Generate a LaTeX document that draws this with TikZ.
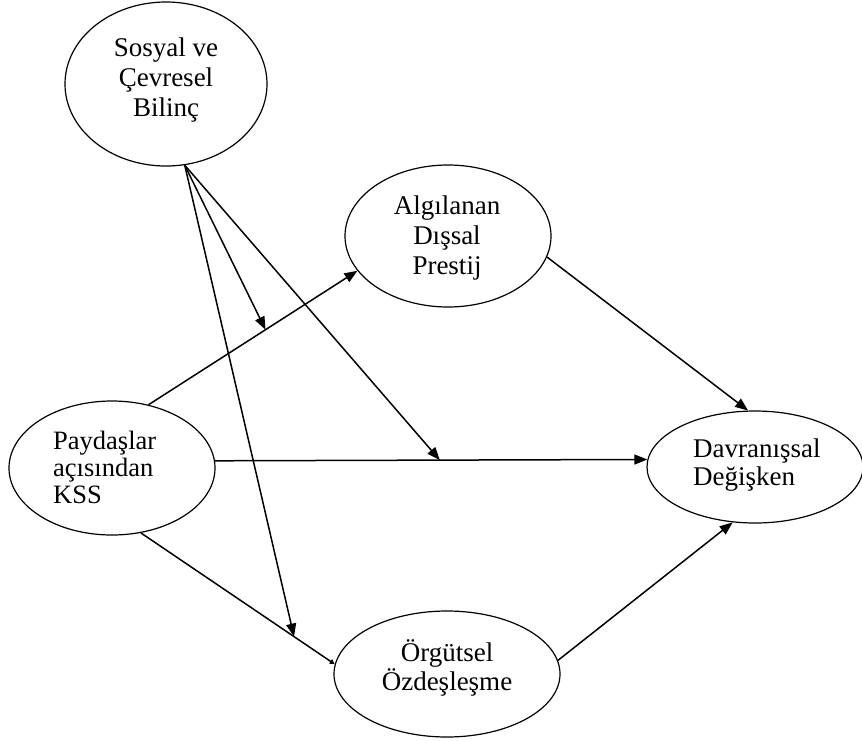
\documentclass[tikz,border=0pt]{standalone}
\usepackage{fontspec}
\setmainfont{Liberation Serif}
\usetikzlibrary{arrows.meta,shapes.geometric}
\begin{document}
\begin{tikzpicture}[x=1pt,y=-1pt,
  construct/.style={draw, ellipse, line width=1.2pt, inner sep=0pt},
  caption/.style={font=\fontsize{27}{30}\selectfont, inner sep=0pt},
  path/.style={line width=1.5pt, -{Triangle[length=13pt,width=10pt]}},
  smallpath/.style={line width=1.5pt, -{Triangle[length=5pt,width=5pt]}}]
\useasboundingbox (0,0) rectangle (862,740);

% constructs
\node[construct, minimum width=202pt, minimum height=164pt] (sos) at (166,84) {};
\node[construct, minimum width=206pt, minimum height=142pt] (adp) at (448,236) {};
\node[construct, minimum width=206pt, minimum height=134pt] (kss) at (112,468) {};
\node[construct, minimum width=216pt, minimum height=112pt] (dav) at (755,467) {};
\node[construct, minimum width=226pt, minimum height=126pt] (org) at (447,674) {};

% captions
\node[caption, align=center] (sos-t) at (166,80) {Sosyal ve\\Çevresel\\Bilinç};
\node[caption, align=center] (adp-t) at (447,238) {Algılanan\\Dışsal\\Prestij};
\node[caption, align=left, anchor=west, font=\fontsize{26.5}{27}\selectfont] (kss-t) at (53,467) {Paydaşlar\\açısından\\KSS};
\node[caption, align=left, anchor=west, font=\fontsize{27}{28}\selectfont] (dav-t) at (693,465) {Davranışsal\\Değişken};
\node[caption, align=center, font=\fontsize{27}{29}\selectfont] (org-t) at (447,668) {Örgütsel\\Özdeşleşme};

% direct effects
\draw[path] (kss.60) -- (adp.-159) coordinate[pos=0.56] (m1);
\draw[path] (kss.4) -- (dav.176) coordinate[pos=0.52] (m2);
\draw[smallpath] (kss.-66) -- (org.175) coordinate[pos=0.79] (m3);
\draw[path] (adp.-12) -- (dav.97);
\draw[path] (org.7) -- (dav.-112);

% moderating effects
\draw[path] (sos.-77) -- (m1);
\draw[path] (sos.-77) -- (m2);
\draw[path] (sos.-77) -- (m3);
\end{tikzpicture}
\end{document}
